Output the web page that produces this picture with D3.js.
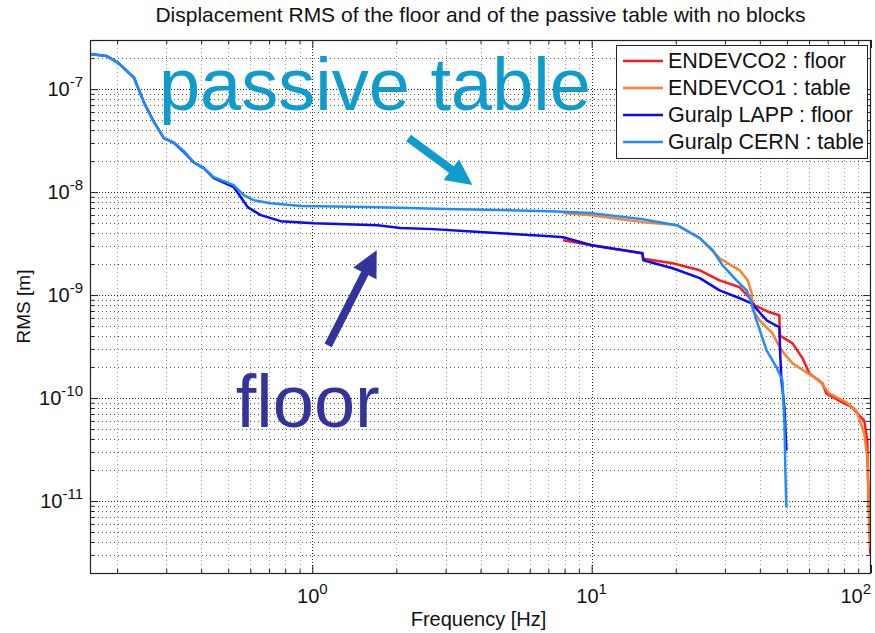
<!DOCTYPE html>
<html>
<head>
<meta charset="utf-8">
<script src="https://cdn.jsdelivr.net/npm/d3@7"></script>
<style>
  body { margin: 0; background: #fff; }
  text { font-family: "Liberation Sans", Arial, Helvetica, sans-serif; }
</style>
</head>
<body>
<div id="chart"></div>
<script>
//Datos (frecuencia en Hz, RMS en m)
const FREQ_ENDEVCO2 = [7.9, 10.0, 15.2, 15.3, 19.5, 24.4, 28.7, 33.9, 37.4, 38.3, 43.3, 47.0, 47.1, 48.2, 52.4, 56.9, 60.2, 67.0, 69.2, 78.9, 85.8, 90.7, 94.6, 97.0, 97.8, 99.4];
const RMS_ENDEVCO2 = [3.41e-9, 3.05e-9, 2.55e-9, 2.25e-9, 2.04e-9, 1.74e-9, 1.39e-9, 1.19e-9, 8.91e-10, 7.96e-10, 6.81e-10, 6.37e-10, 4.06e-10, 3.9e-10, 3.40e-10, 2.43e-10, 1.73e-10, 1.39e-10, 1.11e-10, 9.06e-11, 8.11e-11, 6.77e-11, 6.05e-11, 3.87e-11, 1.26e-11, 3.08e-12];

const FREQ_ENDEVCO1 = [7.9, 10.0, 15.2, 20.2, 24.4, 28.7, 32.5, 33.9, 36.2, 37.4, 37.7, 39.9, 44.4, 47.8, 52.4, 58.8, 65.4, 70.9, 81.6, 88.6, 94.6, 97.0, 97.8, 99.4];
const RMS_ENDEVCO1 = [6.25e-9, 5.97e-9, 5.11e-9, 4.77e-9, 3.57e-9, 2.28e-9, 1.86e-9, 1.74e-9, 1.39e-9, 1.04e-9, 7.11e-10, 5.69e-10, 4.25e-10, 2.90e-10, 2.17e-10, 1.77e-10, 1.48e-10, 1.11e-10, 9.06e-11, 7.57e-11, 4.53e-11, 2.64e-11, 1.26e-11, 3.5e-12];

const FREQ_LAPP = [0.16, 0.183, 0.202, 0.230, 0.250, 0.271, 0.294, 0.320, 0.347, 0.377, 0.409, 0.444, 0.523, 0.587, 0.654, 0.770, 1.01, 1.71, 2.07, 2.71, 3.59, 4.70, 7.10, 7.90, 10.0, 15.2, 15.3, 19.5, 24.4, 28.7, 33.9, 37.4, 42.3, 47.0, 47.3, 47.8, 49.0, 49.8];
const RMS_LAPP = [2.20e-7, 2.10e-7, 1.80e-7, 1.29e-7, 7.35e-8, 4.80e-8, 3.35e-8, 3.00e-8, 2.45e-8, 1.93e-8, 1.71e-8, 1.37e-8, 1.12e-8, 7.15e-9, 5.97e-9, 5.22e-9, 4.99e-9, 4.77e-9, 4.47e-9, 4.37e-9, 4.17e-9, 3.99e-9, 3.73e-9, 3.65e-9, 3.05e-9, 2.55e-9, 2.18e-9, 1.82e-9, 1.46e-9, 1.11e-9, 9.31e-10, 8.32e-10, 5.69e-10, 4.87e-10, 2.7e-10, 1.48e-10, 8.11e-11, 3.09e-11];

const FREQ_CERN = [0.16, 0.183, 0.202, 0.230, 0.250, 0.271, 0.294, 0.320, 0.347, 0.377, 0.409, 0.444, 0.523, 0.568, 0.617, 0.710, 0.908, 1.58, 3.04, 7.10, 10.0, 15.2, 20.2, 24.4, 27.1, 29.4, 33.0, 35.9, 37.4, 38.9, 42.3, 45.9, 48.2, 49.0, 49.4, 49.8];
const RMS_CERN = [2.20e-7, 2.10e-7, 1.80e-7, 1.29e-7, 7.35e-8, 4.80e-8, 3.35e-8, 3.00e-8, 2.50e-8, 1.93e-8, 1.71e-8, 1.40e-8, 1.17e-8, 9.35e-9, 8.36e-9, 7.81e-9, 7.31e-9, 7.15e-9, 6.84e-9, 6.53e-9, 6.25e-9, 5.46e-9, 4.77e-9, 3.57e-9, 2.73e-9, 1.95e-9, 1.39e-9, 1.11e-9, 8.32e-10, 5.69e-10, 2.90e-10, 1.99e-10, 1.48e-10, 5.66e-11, 1.85e-11, 8.63e-12];

const LEGEND_LABELS = ['ENDEVCO2 : floor', 'ENDEVCO1 : table', 'Guralp LAPP : floor', 'Guralp CERN : table'];

//Ticks
const X_MAJOR = [1, 10, 100];
const X_EXPONENTS = ['0', '1', '2'];
const Y_MAJOR = [1e-7, 1e-8, 1e-9, 1e-10, 1e-11];
const Y_EXPONENTS = ['-7', '-8', '-9', '-10', '-11'];

//Anotaciones (posiciones en unidades de datos)
const NOTE_TABLE = { text: 'passive table', f: 0.2825, v: 6.28e-8 };
const NOTE_FLOOR = { text: 'floor', f: 0.532, v: 5.18e-11 };
const ARROW_TABLE = { from: [2.21, 3.35e-8], to: [3.74, 1.17e-8] };
const ARROW_FLOOR = { from: [1.14, 3.25e-10], to: [1.70, 2.73e-9] };

//Colores
const COLOR_RED = '#ff1a1a',
COLOR_ORANGE = '#ff7f2a',
COLOR_BLUE = '#0a0af5',
COLOR_LIGHTBLUE = '#1e8cff',
COLOR_NOTE_TABLE = '#0f9bcc',
COLOR_NOTE_FLOOR = '#333399';

const series = [
    { f: FREQ_ENDEVCO2, v: RMS_ENDEVCO2, color: COLOR_RED },
    { f: FREQ_ENDEVCO1, v: RMS_ENDEVCO1, color: COLOR_ORANGE },
    { f: FREQ_LAPP, v: RMS_LAPP, color: COLOR_BLUE },
    { f: FREQ_CERN, v: RMS_CERN, color: COLOR_LIGHTBLUE }
];

const W = 875, H = 633;
const margin = { top: 40, right: 4, bottom: 60, left: 90 };

let svg = d3.select('#chart').append('svg')
    .attr('width', W)
    .attr('height', H)
    .style('display', 'block');

svg.append('rect').attr('width', W).attr('height', H).attr('fill', '#fff');

let x = d3.scaleLog().domain([0.16, 100]).range([margin.left, W - margin.right]);
let y = d3.scaleLog().domain([2e-12, 3e-7]).range([H - margin.bottom, margin.top]);

const x0 = x.range()[0], x1 = x.range()[1], y0 = y.range()[0], y1 = y.range()[1];

//Valores de ticks menores
function minorTicks(scale) {
    let d = scale.domain();
    let out = [];
    for (let e = Math.floor(Math.log10(d[0])); e <= Math.ceil(Math.log10(d[1])); e++) {
        for (let m = 2; m <= 9; m++) {
            let v = m * Math.pow(10, e);
            if (v >= d[0] && v <= d[1]) out.push(v);
        }
    }
    return out;
}
const xMinor = minorTicks(x), yMinor = minorTicks(y);

//Rejilla
let grid = svg.append('g').attr('class', 'grid');
grid.selectAll('.gxm').data(xMinor).enter().append('line')
    .attr('x1', d => Math.round(x(d)) + 0.5).attr('x2', d => Math.round(x(d)) + 0.5)
    .attr('y1', y1).attr('y2', y0)
    .attr('stroke', '#999').attr('stroke-dasharray', '1,3');
grid.selectAll('.gym').data(yMinor).enter().append('line')
    .attr('y1', d => Math.round(y(d)) + 0.5).attr('y2', d => Math.round(y(d)) + 0.5)
    .attr('x1', x0).attr('x2', x1)
    .attr('stroke', '#555').attr('stroke-dasharray', '1,3');
grid.selectAll('.gxM').data(X_MAJOR.filter(d => d < 100)).enter().append('line')
    .attr('x1', d => Math.round(x(d)) + 0.5).attr('x2', d => Math.round(x(d)) + 0.5)
    .attr('y1', y1).attr('y2', y0)
    .attr('stroke', '#222').attr('stroke-dasharray', '1,2');
grid.selectAll('.gyM').data(Y_MAJOR).enter().append('line')
    .attr('y1', d => Math.round(y(d)) + 0.5).attr('y2', d => Math.round(y(d)) + 0.5)
    .attr('x1', x0).attr('x2', x1)
    .attr('stroke', '#222').attr('stroke-dasharray', '1,2');

//Curvas
let line = d3.line()
    .x(d => x(d[0]))
    .y(d => y(d[1]));

svg.append('clipPath').attr('id', 'plotclip')
    .append('rect').attr('x', x0).attr('y', y1).attr('width', x1 - x0).attr('height', y0 - y1);

svg.append('g').attr('clip-path', 'url(#plotclip)')
    .selectAll('path').data(series).enter().append('path')
    .attr('d', s => line(s.f.map((f, i) => [f, s.v[i]])))
    .attr('fill', 'none')
    .attr('stroke', s => s.color)
    .attr('stroke-width', 2.5)
    .attr('stroke-linejoin', 'round');

//Ejes: caja y ticks interiores
let axes = svg.append('g').attr('class', 'axes');

function tickAxis(axisFn, scale, values, size, transform) {
    axes.append('g')
        .attr('transform', transform)
        .call(axisFn(scale).tickValues(values).tickSizeInner(size).tickSizeOuter(0).tickFormat(''))
        .call(g => g.select('.domain').remove())
        .call(g => g.selectAll('line').attr('stroke', '#222'));
}
tickAxis(d3.axisBottom, x, X_MAJOR, -8, 'translate(0,' + y0 + ')');
tickAxis(d3.axisBottom, x, xMinor, -4, 'translate(0,' + y0 + ')');
tickAxis(d3.axisTop, x, X_MAJOR, -8, 'translate(0,' + y1 + ')');
tickAxis(d3.axisTop, x, xMinor, -4, 'translate(0,' + y1 + ')');
tickAxis(d3.axisLeft, y, Y_MAJOR, -8, 'translate(' + x0 + ',0)');
tickAxis(d3.axisLeft, y, yMinor, -4, 'translate(' + x0 + ',0)');
tickAxis(d3.axisRight, y, Y_MAJOR, -8, 'translate(' + x1 + ',0)');
tickAxis(d3.axisRight, y, yMinor, -4, 'translate(' + x1 + ',0)');

axes.append('rect')
    .attr('x', x0 + 0.5).attr('y', y1 + 0.5)
    .attr('width', x1 - x0 - 1).attr('height', y0 - y1)
    .attr('fill', 'none').attr('stroke', '#222').attr('stroke-width', 1.2);

//Etiquetas de ticks con exponentes (la última se ajusta al borde)
let xl = svg.selectAll('.xlab').data(X_MAJOR).enter().append('text')
    .attr('x', d => Math.min(x(d), W - 1))
    .attr('y', y0 + 30)
    .attr('text-anchor', d => x(d) + 16 > W ? 'end' : 'middle')
    .attr('font-size', 20).attr('fill', '#111');
xl.append('tspan').text('10');
xl.append('tspan').attr('dy', -9).attr('font-size', 15).text((d, i) => X_EXPONENTS[i]);

let yl = svg.selectAll('.ylab').data(Y_MAJOR).enter().append('text')
    .attr('x', x0 - 7).attr('y', d => y(d) + 7)
    .attr('text-anchor', 'end').attr('font-size', 20).attr('fill', '#111');
yl.append('tspan').text('10');
yl.append('tspan').attr('dy', -9).attr('font-size', 15).text((d, i) => Y_EXPONENTS[i]);

//Títulos
svg.append('text')
    .attr('x', (x0 + x1) / 2).attr('y', 22)
    .attr('text-anchor', 'middle').attr('font-size', 21).attr('fill', '#111')
    .text('Displacement RMS of the floor and of the passive table with no blocks');

svg.append('text')
    .attr('x', (x0 + x1) / 2 - 2).attr('y', 626)
    .attr('text-anchor', 'middle').attr('font-size', 20).attr('fill', '#111')
    .text('Frequency [Hz]');

svg.append('text')
    .attr('transform', 'translate(30,' + ((y0 + y1) / 2) + ') rotate(-90)')
    .attr('text-anchor', 'middle').attr('font-size', 19).attr('fill', '#111')
    .text('RMS [m]');

//Anotaciones
svg.append('text')
    .attr('x', x(NOTE_TABLE.f)).attr('y', y(NOTE_TABLE.v))
    .attr('font-size', 74).attr('fill', COLOR_NOTE_TABLE)
    .text(NOTE_TABLE.text);

svg.append('text')
    .attr('x', x(NOTE_FLOOR.f)).attr('y', y(NOTE_FLOOR.v))
    .attr('font-size', 74).attr('fill', COLOR_NOTE_FLOOR)
    .text(NOTE_FLOOR.text);

function drawArrow(a, color) {
    let ax = x(a.from[0]), ay = y(a.from[1]), bx = x(a.to[0]), by = y(a.to[1]);
    let len = Math.hypot(bx - ax, by - ay);
    let ux = (bx - ax) / len, uy = (by - ay) / len;
    let headL = 26, headW = 13;
    let cx = bx - ux * headL, cy = by - uy * headL;
    svg.append('line')
        .attr('x1', ax).attr('y1', ay).attr('x2', cx + ux * 2).attr('y2', cy + uy * 2)
        .attr('stroke', color).attr('stroke-width', 8);
    svg.append('polygon')
        .attr('points', [[bx, by], [cx - uy * headW, cy + ux * headW], [cx + uy * headW, cy - ux * headW]].map(p => p.join(',')).join(' '))
        .attr('fill', color);
}
drawArrow(ARROW_TABLE, COLOR_NOTE_TABLE);
drawArrow(ARROW_FLOOR, COLOR_NOTE_FLOOR);

//Leyenda
let legend = svg.append('g').attr('class', 'legend');
legend.append('rect')
    .attr('x', 616.5).attr('y', 45.5).attr('width', 251).attr('height', 113)
    .attr('fill', '#fff').attr('stroke', '#222');

let items = legend.selectAll('.item').data(series).enter().append('g')
    .attr('transform', (d, i) => 'translate(0,' + (61 + i * 27) + ')');
items.append('line')
    .attr('x1', 623).attr('x2', 663).attr('y1', 0).attr('y2', 0)
    .attr('stroke', d => d.color).attr('stroke-width', 2.5);
items.append('text')
    .attr('x', 668).attr('y', 7)
    .attr('font-size', 21.5).attr('fill', '#111')
    .text((d, i) => LEGEND_LABELS[i]);
</script>
</body>
</html>
